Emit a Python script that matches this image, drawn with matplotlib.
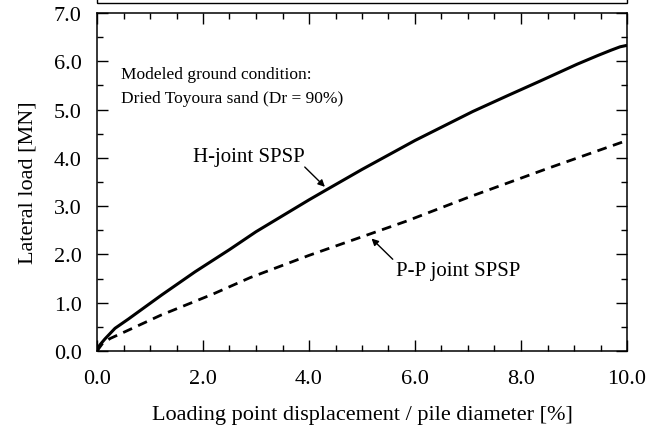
import matplotlib
matplotlib.use("Agg")
from matplotlib import pyplot as plt
from matplotlib.patches import Rectangle
from matplotlib.ticker import MultipleLocator, FormatStrFormatter

# H-joint SPSP (solid)
h_disp = [0.0, 0.05, 0.15, 0.34, 0.59, 1.22, 1.85, 2.5, 3.0, 4.0, 4.3, 5.0, 6.0, 7.09, 7.75, 8.36, 9.06, 9.45, 9.7, 9.87, 10.0]
h_load = [0.0, 0.12, 0.25, 0.47, 0.66, 1.16, 1.64, 2.1, 2.47, 3.13, 3.32, 3.76, 4.36, 4.96, 5.29, 5.59, 5.94, 6.12, 6.23, 6.30, 6.33]

# P-P joint SPSP (dashed)
pp_disp = [0.0, 0.1, 0.25, 0.53, 1.2, 2.19, 2.89, 4.0, 5.09, 5.84, 7.0, 8.5, 9.87, 10.0]
pp_load = [0.0, 0.15, 0.26, 0.40, 0.74, 1.18, 1.52, 1.98, 2.40, 2.69, 3.18, 3.78, 4.31, 4.36]

plt.rcParams['font.family'] = ['Liberation Serif', 'DejaVu Serif']

fig = plt.figure(figsize=(6.53, 4.27), dpi=100)
ax = fig.add_axes([97 / 653, 75 / 427, 530 / 653, 338 / 427])

ax.plot(h_disp, h_load, color='black', lw=2.2, solid_capstyle='butt')
ax.plot(pp_disp, pp_load, color='black', lw=2.0, dashes=(3.5, 2.4))

ax.set_xlim(0, 10)
ax.set_ylim(0, 7)
ax.xaxis.set_major_locator(MultipleLocator(2))
ax.xaxis.set_minor_locator(MultipleLocator(0.5))
ax.yaxis.set_major_locator(MultipleLocator(1))
ax.yaxis.set_minor_locator(MultipleLocator(0.5))
ax.xaxis.set_major_formatter(FormatStrFormatter('%.1f'))
ax.yaxis.set_major_formatter(FormatStrFormatter('%.1f'))
ax.tick_params(which='both', direction='in', top=True, right=True, width=1.0, labelsize=16)
ax.tick_params(which='major', length=8)
ax.tick_params(axis='x', which='major', pad=13)
ax.tick_params(axis='y', which='major', pad=11)
ax.tick_params(which='minor', length=4.5)
for s in ax.spines.values():
    s.set_linewidth(1.1)

ax.set_xlabel('Loading point displacement / pile diameter [%]', fontsize=16, labelpad=12)
ax.set_ylabel('Lateral load [MN]', fontsize=16, labelpad=12)

ax.text(0.45, 5.73, 'Modeled ground condition:', fontsize=12.5, va='center', ha='left')
ax.text(0.45, 5.24, 'Dried Toyoura sand (Dr = 90%)', fontsize=12.5, va='center', ha='left')

ax.text(2.86, 4.03, 'H-joint SPSP', fontsize=15, ha='center', va='center')
ax.annotate('', xy=(4.30, 3.40), xytext=(3.92, 3.81),
            arrowprops=dict(arrowstyle='-|>', color='black', lw=1.0,
                            shrinkA=0, shrinkB=0, mutation_scale=10))
ax.text(6.81, 1.67, 'P-P joint SPSP', fontsize=15, ha='center', va='center')
ax.annotate('', xy=(5.18, 2.33), xytext=(5.58, 1.90),
            arrowprops=dict(arrowstyle='-|>', color='black', lw=1.0,
                            shrinkA=0, shrinkB=0, mutation_scale=10))

# box edge left over at the very top of the picture
fig.patches.append(Rectangle((97 / 653, 1 - 4 / 427), 530 / 653, 0.05,
                             transform=fig.transFigure, fill=False,
                             edgecolor='black', lw=1.0))

fig.savefig('out.png', dpi=100)
